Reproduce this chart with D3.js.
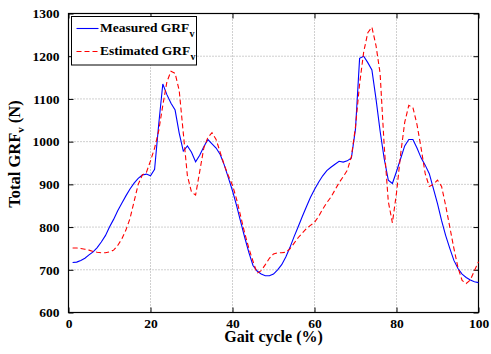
<!DOCTYPE html>
<html>
<head>
<meta charset="utf-8">
<script src="https://cdn.jsdelivr.net/npm/d3@7"></script>
<style>
  body { margin: 0; background: #fff; }
  svg text { font-family: "Liberation Serif", "Times New Roman", serif !important; font-weight: bold; }
</style>
</head>
<body>
<div id="chart"></div>
<script>
const width = 491;
const height = 354;

// gait cycle (%) sample positions
const gaitPct = d3.range(1, 101);

// measured vertical GRF (N), one value per percent, 1..100
const measured = [
  717, 718, 722, 727, 735, 742, 752, 765, 780, 800,
  818, 838, 856, 873, 889, 903, 914, 922, 924, 920,
  935, 1040, 1135, 1110, 1090, 1074, 1020, 978, 990, 975,
  953, 968, 988, 1005, 995, 985, 970, 945, 915, 885,
  850, 812, 775, 740, 710, 697, 690, 686, 686, 690,
  700, 712, 730, 752, 777, 800, 824, 847, 869, 888,
  905, 920, 932, 940, 947, 954, 952, 955, 962, 1030,
  1195, 1200, 1185, 1168, 1100, 1025, 960, 910, 902, 930,
  960, 990, 1005, 1005, 985, 962, 945, 925, 890, 855,
  815, 780, 750, 722, 703, 690, 682, 676, 672, 670
];

// estimated vertical GRF (N)
const estimated = [
  751, 751, 750, 748, 746, 743, 741, 740, 740, 742,
  746, 757, 772, 793, 820, 860, 900, 922, 928, 955,
  985, 1025, 1085, 1140, 1165, 1160, 1120, 1020, 920, 882,
  875, 930, 985, 1010, 1021, 1005, 975, 945, 920, 898,
  865, 825, 785, 750, 720, 692, 698, 712, 727, 737,
  740, 740, 741, 749, 762, 775, 786, 796, 804, 811,
  825, 842, 857, 870, 887, 904, 918, 933, 965, 1035,
  1135, 1210, 1255, 1268, 1225, 1160, 990, 860, 810, 880,
  970, 1045, 1085, 1080, 1040, 985, 925, 895, 900, 910,
  895, 850, 800, 750, 705, 675, 668, 676, 698, 719
];

const xTicks = [0, 20, 40, 60, 80, 100];
const yTicks = [600, 700, 800, 900, 1000, 1100, 1200, 1300];

const margin = { top: 13.5, right: 12.5, bottom: 41.5, left: 68.5 };
const iw = width - margin.left - margin.right;
const ih = height - margin.top - margin.bottom;

const svg = d3.select("#chart")
  .append("svg")
  .attr("width", width)
  .attr("height", height);

const g = svg.append("g")
  .attr("transform", `translate(${margin.left},${margin.top})`);

const x = d3.scaleLinear().domain([0, 100]).range([0, iw]);
const y = d3.scaleLinear().domain([600, 1300]).range([ih, 0]);

// grid
g.append("g")
  .selectAll("line")
  .data(xTicks.slice(1, -1))
  .join("line")
  .attr("x1", d => x(d)).attr("x2", d => x(d))
  .attr("y1", 0).attr("y2", ih)
  .attr("stroke", "#a0a0a0")
  .attr("stroke-dasharray", "1,2");

g.append("g")
  .selectAll("line")
  .data(yTicks.slice(1, -1))
  .join("line")
  .attr("y1", d => y(d)).attr("y2", d => y(d))
  .attr("x1", 0).attr("x2", iw)
  .attr("stroke", "#a0a0a0")
  .attr("stroke-dasharray", "1,2");

// axes with inward ticks, box on
const fmt = d3.format("d");
const axisB = g.append("g").attr("transform", `translate(0,${ih})`)
  .call(d3.axisBottom(x).tickValues(xTicks).tickSizeInner(-5).tickSizeOuter(0).tickPadding(7).tickFormat(fmt));
const axisT = g.append("g")
  .call(d3.axisTop(x).tickValues(xTicks).tickSizeInner(-5).tickSizeOuter(0).tickFormat(""));
const axisL = g.append("g")
  .call(d3.axisLeft(y).tickValues(yTicks).tickSizeInner(-5).tickSizeOuter(0).tickPadding(9).tickFormat(fmt));
const axisR = g.append("g").attr("transform", `translate(${iw},0)`)
  .call(d3.axisRight(y).tickValues(yTicks).tickSizeInner(-5).tickSizeOuter(0).tickFormat(""));

[axisB, axisT, axisL, axisR].forEach(a => {
  a.attr("font-family", "Liberation Serif").attr("font-size", 13.5);
  a.select(".domain").remove();
  a.selectAll("line").attr("stroke", "#000");
  a.selectAll("text")
    .attr("fill", "#000")
    .style("font-size", "13.5px");
});
axisB.selectAll("text").attr("dy", "0.6em");

g.append("rect")
  .attr("width", iw).attr("height", ih)
  .attr("fill", "none")
  .attr("stroke", "#000")
  .attr("stroke-width", 1.2);

// lines
const lineM = d3.line().x((d, i) => x(gaitPct[i])).y(d => y(d));

g.append("path")
  .datum(measured)
  .attr("d", lineM)
  .attr("fill", "none")
  .attr("stroke", "#0000ff")
  .attr("stroke-width", 1.1);

g.append("path")
  .datum(estimated)
  .attr("d", lineM)
  .attr("fill", "none")
  .attr("stroke", "#ff0000")
  .attr("stroke-width", 1.1)
  .attr("stroke-dasharray", "5,3");

// axis labels
svg.append("text")
  .attr("x", margin.left + iw / 2)
  .attr("y", 342)
  .attr("text-anchor", "middle")
  .style("font-size", "16px")
  .text("Gait cycle (%)");

const yl = svg.append("text")
  .attr("transform", `translate(20,${margin.top + ih / 2 - 9}) rotate(-90)`)
  .attr("text-anchor", "middle")
  .style("font-size", "16.5px");
yl.append("tspan").text("Total GRF");
yl.append("tspan").attr("dy", 4).style("font-size", "11px").text("v");
yl.append("tspan").attr("dy", -4).text(" (N)");

// legend
const legendData = [
  { name: "Measured GRF", color: "#0000ff", dash: null },
  { name: "Estimated GRF", color: "#ff0000", dash: "5,3" }
];

const legend = svg.append("g").attr("class", "legend");
legend.append("rect")
  .attr("x", 71.5).attr("y", 16.5)
  .attr("width", 125).attr("height", 48.5)
  .attr("fill", "#fff")
  .attr("stroke", "#000")
  .attr("stroke-width", 1);

legendData.forEach((d, i) => {
  const yy = 28.5 + i * 23;
  legend.append("line")
    .attr("x1", 76.5).attr("x2", 98.5)
    .attr("y1", yy).attr("y2", yy)
    .attr("stroke", d.color)
    .attr("stroke-width", 1.1)
    .attr("stroke-dasharray", d.dash);
  const t = legend.append("text")
    .attr("x", 100)
    .attr("y", yy + 3.5)
    .style("font-size", "13.5px");
  t.append("tspan").text(d.name);
  t.append("tspan").attr("dy", 5).style("font-size", "10px").text("v");
});
</script>
</body>
</html>
